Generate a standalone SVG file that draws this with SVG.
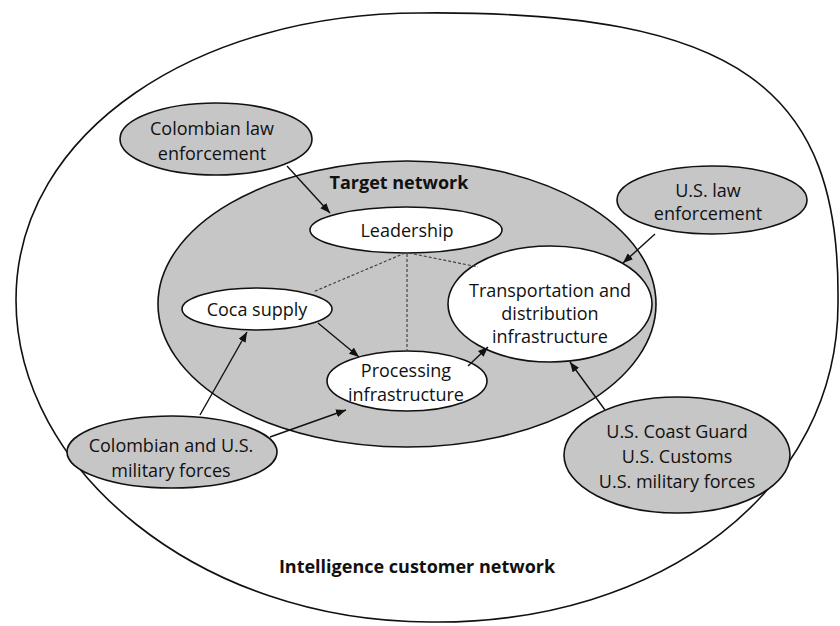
<svg xmlns="http://www.w3.org/2000/svg" width="840" height="626" viewBox="0 0 840 626">
  <style>
    .txt { font-family: "Open Sans", "Liberation Sans", sans-serif; font-size: 18px; fill: #111; text-anchor: middle; }
    .bold { font-weight: bold; }
    .grey { fill: #c6c6c6; stroke: #111; stroke-width: 1.6; }
    .white { fill: #ffffff; stroke: #111; stroke-width: 1.6; }
    .arrow { fill: none; stroke: #111; stroke-width: 1.4; marker-end: url(#head); }
    .dash { fill: none; stroke: #444; stroke-width: 1.2; stroke-dasharray: 3 2; }
  </style>
  <defs>
    <marker id="head" markerUnits="userSpaceOnUse" markerWidth="10" markerHeight="8" refX="10" refY="4" orient="auto">
      <path d="M0,0 L10,4 L0,8 z" fill="#111"/>
    </marker>
  </defs>

  <rect width="840" height="626" fill="#ffffff"/>

  <!-- outer boundary: intelligence customer network -->
  <g id="customer-network">
    <path d="M420,13 C740,10 840,90 838,300 C840,490 660,625 430,622 C200,622 16,470 16,300 C16,130 200,13 420,13 Z" fill="#ffffff" stroke="#111" stroke-width="1.6"/>
    <text class="txt bold" x="417" y="573">Intelligence customer network</text>
  </g>

  <!-- target network -->
  <g id="target-network">
    <ellipse class="grey" cx="407" cy="304" rx="249" ry="143"/>
    <text class="txt bold" x="399" y="189">Target network</text>
  </g>

  <!-- external actors -->
  <g id="colombian-law">
    <ellipse class="grey" cx="216" cy="139" rx="96" ry="36"/>
    <text class="txt" x="212" y="135">Colombian law</text>
    <text class="txt" x="212" y="160">enforcement</text>
  </g>
  <g id="us-law">
    <ellipse class="grey" cx="712" cy="200" rx="95" ry="34"/>
    <text class="txt" x="708" y="197">U.S. law</text>
    <text class="txt" x="708" y="220">enforcement</text>
  </g>
  <g id="military">
    <ellipse class="grey" cx="172" cy="452" rx="105" ry="36"/>
    <text class="txt" x="171" y="452">Colombian and U.S.</text>
    <text class="txt" x="171" y="477">military forces</text>
  </g>
  <g id="us-agencies">
    <ellipse class="grey" cx="677" cy="455" rx="113" ry="58"/>
    <text class="txt" x="677" y="438">U.S. Coast Guard</text>
    <text class="txt" x="677" y="463">U.S. Customs</text>
    <text class="txt" x="677" y="488">U.S. military forces</text>
  </g>

  <!-- target network components -->
  <g id="leadership">
    <ellipse class="white" cx="406" cy="230" rx="96" ry="23"/>
    <text class="txt" x="407" y="237">Leadership</text>
  </g>
  <g id="coca-supply">
    <ellipse class="white" cx="257" cy="309" rx="75" ry="21"/>
    <text class="txt" x="257" y="316">Coca supply</text>
  </g>
  <g id="processing">
    <ellipse class="white" cx="407" cy="381" rx="80" ry="30"/>
    <text class="txt" x="406" y="377">Processing</text>
    <text class="txt" x="406" y="401">infrastructure</text>
  </g>
  <g id="transportation">
    <ellipse class="white" cx="550" cy="304" rx="102" ry="58"/>
    <text class="txt" x="550" y="297">Transportation and</text>
    <text class="txt" x="550" y="320">distribution</text>
    <text class="txt" x="550" y="343">infrastructure</text>
  </g>

  <!-- connectors -->
  <g id="connectors">
    <line class="dash" x1="405" y1="253" x2="313" y2="292"/>
    <line class="dash" x1="407" y1="254" x2="407" y2="351"/>
    <line class="dash" x1="409" y1="253" x2="478" y2="267"/>

    <line class="arrow" x1="287" y1="166" x2="330" y2="213"/>
    <line class="arrow" x1="655" y1="234" x2="623" y2="263"/>
    <line class="arrow" x1="200" y1="415" x2="247" y2="332"/>
    <line class="arrow" x1="270" y1="437" x2="346" y2="410"/>
    <line class="arrow" x1="318" y1="323" x2="359" y2="357"/>
    <line class="arrow" x1="468" y1="366" x2="488" y2="347"/>
    <line class="arrow" x1="605" y1="410" x2="570" y2="362"/>
  </g>
</svg>
